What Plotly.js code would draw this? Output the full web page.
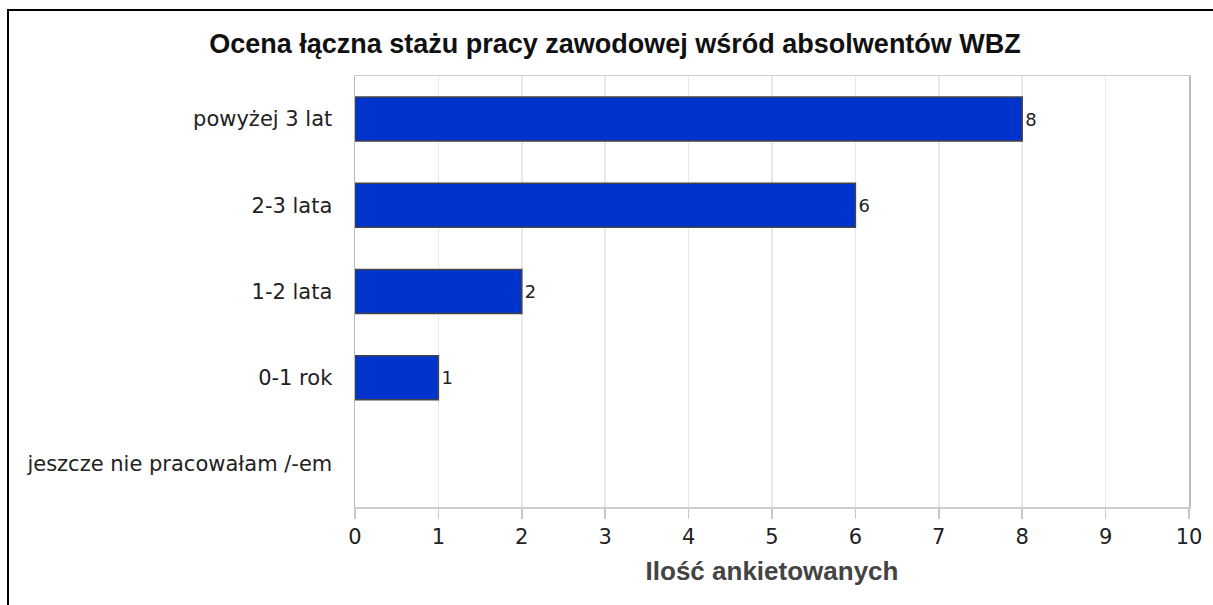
<!DOCTYPE html>
<html>
<head>
<meta charset="utf-8">
<script src="https://cdn.plot.ly/plotly-3.0.1.min.js"></script>
<style>
    html, body { margin: 0; padding: 0; background: #fff; overflow: hidden; }
    #chart { position: absolute; left: 0; top: 0; width: 1213px; height: 605px; }
    #frame {
        position: absolute; left: 7px; top: 9px; width: 1300px; height: 700px;
        border-left: 2px solid #000; border-top: 2px solid #000;
        pointer-events: none;
    }
</style>
</head>
<body>
<div id="chart"></div>
<div id="frame"></div>
<script>
    // --- Data ---
    const categories = [
        'jeszcze nie pracowałam /-em',
        '0-1 rok',
        '1-2 lata',
        '2-3 lata',
        'powyżej 3 lat'
    ];
    const counts = [0, 1, 2, 6, 8];
    const xTicks = [0, 1, 2, 3, 4, 5, 6, 7, 8, 9, 10];

    const tickFont = { family: 'DejaVu Sans', size: 21, color: '#222' };

    const trace = {
        type: 'bar',
        orientation: 'h',
        y: categories,
        x: counts,
        // the empty category gets no label and no outline
        text: counts.map(v => v > 0 ? String(v) : ''),
        textposition: 'outside',
        cliponaxis: false,
        textfont: { family: 'DejaVu Sans', size: 18, color: '#222' },
        marker: {
            color: '#0033cc',
            line: { color: '#444', width: counts.map(v => v > 0 ? 1.5 : 0) }
        },
        hoverinfo: 'none'
    };

    const layout = {
        width: 1213,
        height: 605,
        paper_bgcolor: '#fff',
        plot_bgcolor: '#fff',
        showlegend: false,
        bargap: 0.49,
        margin: { l: 355, r: 24, t: 76, b: 98, pad: 0 },
        title: {
            text: 'Ocena łączna stażu pracy zawodowej wśród absolwentów WBZ',
            font: { family: 'Liberation Sans', size: 27, color: '#111', weight: 'bold' },
            x: 615 / 1213, xref: 'container', xanchor: 'center',
            y: 1 - 44 / 605, yref: 'container', yanchor: 'middle'
        },
        xaxis: {
            range: [0, 10],
            tickvals: xTicks,
            ticktext: xTicks.map(String),
            tickfont: tickFont,
            ticks: 'outside', ticklen: 10, tickcolor: '#c8c8c8', tickwidth: 1.5,
            showgrid: true, gridcolor: '#e8e8e8', gridwidth: 1.5,
            zeroline: false,
            showline: true, linecolor: '#cccccc', linewidth: 1.5, mirror: true,
            title: {
                text: 'Ilość ankietowanych',
                font: { family: 'Liberation Sans', size: 26, color: '#444', weight: 'bold' },
                standoff: 14
            },
            fixedrange: true
        },
        yaxis: {
            type: 'category',
            tickfont: tickFont,
            ticks: '',
            ticklabelstandoff: 17,
            showgrid: false,
            zeroline: false,
            showline: true, linecolor: '#bbbbbb', linewidth: 1.5, mirror: true,
            fixedrange: true
        }
    };

    Plotly.newPlot('chart', [trace], layout, { displayModeBar: false, staticPlot: true });
</script>
</body>
</html>
